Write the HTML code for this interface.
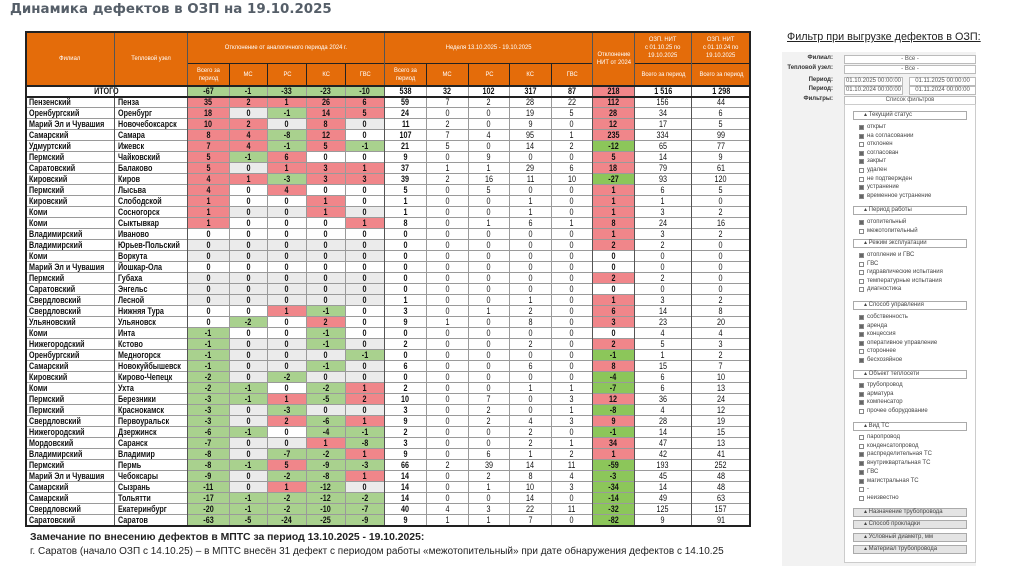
<!DOCTYPE html>
<html><head><meta charset="utf-8">
<style>
body{margin:0;width:1024px;height:574px;background:#fff;position:relative;overflow:hidden;font-family:"Liberation Sans",sans-serif}
.a{position:absolute;box-sizing:border-box}
.c{position:absolute;box-sizing:border-box;display:flex;align-items:center;justify-content:center;font-size:9px;font-weight:bold;color:#111;white-space:nowrap;overflow:hidden}
.c span{display:inline-block;transform:scaleX(.8)}
.c.l span{transform-origin:left center}
.h{background:#e46c0a;color:#fff;font-size:6.5px;text-align:center;line-height:8px;white-space:normal;border:1px solid #222;font-weight:normal}
.h span{transform:scaleX(.9)}
.f{position:absolute;font-family:"Liberation Sans",sans-serif;font-size:6px;color:#444;white-space:nowrap}
.cb{position:absolute;width:5px;height:5px;border:1px solid #888;background:#fff;box-sizing:border-box}
.cb.on{background:#666}
.sec{position:absolute;left:853px;width:114px;height:9px;border:1px solid #aaa;background:#fff;box-sizing:border-box;font-family:"Liberation Sans",sans-serif;font-size:6px;color:#444;padding-left:10px;line-height:7px}
.sec.g{background:#e4e4e4}
</style></head><body>
<div class="a" style="left:10px;top:0;font-family:'DejaVu Sans',sans-serif;font-weight:bold;font-size:13.4px;color:#555e68;line-height:20px">Динамика дефектов в ОЗП на 19.10.2025</div>
<div id="tbl"></div>
<div class="a" style="left:30px;top:532px;font-family:'Liberation Sans',sans-serif;font-weight:bold;font-size:10.4px;color:#222">Замечание по внесению дефектов в МПТС за период 13.10.2025 - 19.10.2025:</div>
<div class="a" style="left:30px;top:546px;font-family:'Liberation Sans',sans-serif;font-size:10px;color:#222">г. Саратов (начало ОЗП с 14.10.25) – в МПТС внесён 31 дефект с периодом работы «межотопительный» при дате обнаружения дефектов с 14.10.25</div>
<div class="a" style="left:787px;top:31px;font-family:'Liberation Sans',sans-serif;font-size:10.8px;color:#222;text-decoration:underline">Фильтр при выгрузке дефектов в ОЗП:</div>
<div class="a" style="left:782px;top:52px;width:194px;height:514px;background:#f2f2f2"></div>
<div id="flt"></div>
<script>
const branches=["Пензенский","Оренбургский","Марий Эл и Чувашия","Самарский","Удмуртский","Пермский","Саратовский","Кировский","Пермский","Кировский","Коми","Коми","Владимирский","Владимирский","Коми","Марий Эл и Чувашия","Пермский","Саратовский","Свердловский","Свердловский","Ульяновский","Коми","Нижегородский","Оренбургский","Самарский","Кировский","Коми","Пермский","Пермский","Свердловский","Нижегородский","Мордовский","Владимирский","Пермский","Марий Эл и Чувашия","Самарский","Самарский","Свердловский","Саратовский"];
const nodes=["Пенза","Оренбург","Новочебоксарск","Самара","Ижевск","Чайковский","Балаково","Киров","Лысьва","Слободской","Сосногорск","Сыктывкар","Иваново","Юрьев-Польский","Воркута","Йошкар-Ола","Губаха","Энгельс","Лесной","Нижняя Тура","Ульяновск","Инта","Кстово","Медногорск","Новокуйбышевск","Кирово-Чепецк","Ухта","Березники","Краснокамск","Первоуральск","Дзержинск","Саранск","Владимир","Пермь","Чебоксары","Сызрань","Тольятти","Екатеринбург","Саратов"];
const devTotal=[35,18,10,8,7,5,5,4,4,1,1,1,0,0,0,0,0,0,0,0,0,-1,-1,-1,-1,-2,-2,-3,-3,-3,-6,-7,-8,-8,-9,-11,-17,-20,-63];
const devMS=[2,0,2,4,4,-1,0,1,0,0,0,0,0,0,0,0,0,0,0,0,-2,0,0,0,0,0,-1,-1,0,0,-1,0,0,-1,0,0,-1,-1,-5];
const devRS=[1,-1,0,-8,-1,6,1,-3,4,0,0,0,0,0,0,0,0,0,0,1,0,0,0,0,0,-2,0,1,-3,2,0,0,-7,5,-2,1,-2,-2,-24];
const devKS=[26,14,8,12,5,0,3,3,0,1,1,0,0,0,0,0,0,0,0,-1,2,-1,-1,0,-1,0,-2,-5,0,-6,-4,1,-2,-9,-8,-12,-12,-10,-25];
const devGVS=[6,5,0,0,-1,0,1,3,0,0,0,1,0,0,0,0,0,0,0,0,0,0,0,-1,0,0,1,2,0,1,-1,-8,1,-3,1,0,-2,-7,-9];
const wkTotal=[59,24,11,107,21,9,37,39,5,1,1,8,0,0,0,0,0,0,1,3,9,0,2,0,6,0,2,10,3,9,2,3,9,66,14,14,14,40,9];
const wkMS=[7,0,2,7,5,0,1,2,0,0,0,0,0,0,0,0,0,0,0,0,1,0,0,0,0,0,0,0,0,0,0,0,0,2,0,0,0,4,1];
const wkRS=[2,0,0,4,0,9,1,16,5,0,0,1,0,0,0,0,0,0,0,1,0,0,0,0,0,0,0,7,2,2,0,0,6,39,2,1,0,3,1];
const wkKS=[28,19,9,95,14,0,29,11,0,1,1,6,0,0,0,0,0,0,1,2,8,0,2,0,6,0,1,0,0,4,2,2,1,14,8,10,14,22,7];
const wkGVS=[22,5,0,1,2,0,6,10,0,0,0,1,0,0,0,0,0,0,0,0,0,0,0,0,0,0,1,3,1,3,0,1,2,11,4,3,0,11,0];
const nitDev=[112,28,12,235,-12,5,18,-27,1,1,1,8,1,2,0,0,2,0,1,6,3,0,2,-1,8,-4,-7,12,-8,9,-1,34,1,-59,-3,-34,-14,-32,-82];
const ozp25=[156,34,17,334,65,14,79,93,6,1,3,24,3,2,0,0,2,0,3,14,23,4,5,1,15,6,6,36,4,28,14,47,42,193,45,14,49,125,9];
const ozp24=[44,6,5,99,77,9,61,120,5,0,2,16,2,0,0,0,0,0,2,8,20,4,3,2,7,10,13,24,12,19,15,13,41,252,48,48,63,157,91];
const grayZero=[0,1,1,0,0,0,1,0,0,0,1,0,0,1,1,0,1,1,1,0,0,0,1,1,1,1,0,0,1,1,0,1,1,0,1,1,0,0,0];
const totalRow=[-67,-1,-33,-23,-10,538,32,102,317,87,218,"1 516","1 298"];

const X=[25,114,187,229,267,306,345,384,426,468,509,551,592,634,691,750];
const T=document.getElementById('tbl');
function cell(x0,x1,y,h,txt,bg,extra,left){
  const d=document.createElement('div');d.className='c'+(left?' l':'');
  d.style.left=x0+'px';d.style.top=y+'px';d.style.width=(x1-x0+1)+'px';d.style.height=(h+1)+'px';
  d.style.border='1px solid #9a9a9a';
  if(bg)d.style.background=bg;
  if(extra)Object.assign(d.style,extra);
  const s=document.createElement('span');s.textContent=txt;d.appendChild(s);
  T.appendChild(d);return d;
}
function hdr(x0,x1,y0,y1,txt,name){
  const d=document.createElement('div');d.className='a c h';
  d.style.left=x0+'px';d.style.top=y0+'px';d.style.width=(x1-x0+1)+'px';d.style.height=(y1-y0+1)+'px';
  d.innerHTML='<span>'+txt+'</span>';
  
  
  T.appendChild(d);
}
const RED='#f0868a',GRN='#a9d18e',NG='#8cc65a',GRY='#ebebeb';
hdr(25,114,31,85,'Филиал','header-branch');
hdr(114,187,31,85,'Тепловой узел','header-node');
hdr(187,384,31,63,'Отклонение от аналогичного периода 2024 г.','header-deviation');
hdr(384,592,31,63,'Неделя 13.10.2025 - 19.10.2025','header-week');
hdr(592,634,31,85,'Отклонение<br>НИТ от 2024','header-nit-dev');
hdr(634,691,31,63,'ОЗП. НИТ<br>с 01.10.25 по<br>19.10.2025','header-ozp25');
hdr(691,750,31,63,'ОЗП. НИТ<br>с 01.10.24 по<br>19.10.2025','header-ozp24');
const sub=['Всего за период','МС','РС','КС','ГВС','Всего за период','МС','РС','КС','ГВС'];
sub.forEach((s,i)=>hdr(X[i+2],X[i+3],63,85,s,'subheader-'+i));
hdr(634,691,63,85,'Всего за период','subheader-ozp25');
hdr(691,750,63,85,'Всего за период','subheader-ozp24');
let c=cell(25,187,85,11,'ИТОГО');


totalRow.forEach((v,i)=>{
  const bg=i<5?GRN:(i===10?RED:null);
  const e=cell(X[i+2],X[i+3],85,11,v,bg);
  
  
});
function devBg(v,g){return v>0?RED:(v<0?GRN:(g?GRY:null));}
for(let r=0;r<branches.length;r++){
  const y=96+r*11;
  const g=grayZero[r];
  let e=cell(25,114,y,11,branches[r],null,{justifyContent:'flex-start',paddingLeft:'3px'},true);
  
  
  e=cell(114,187,y,11,nodes[r],null,{justifyContent:'flex-start',paddingLeft:'3px'},true);
  
  
  const dv=[devTotal[r],devMS[r],devRS[r],devKS[r],devGVS[r]];
  dv.forEach((v,i)=>{const k=cell(X[i+2],X[i+3],y,11,v,devBg(v,g));
    
    });
  const wk=[wkTotal[r],wkMS[r],wkRS[r],wkKS[r],wkGVS[r]];
  wk.forEach((v,i)=>{const k=cell(X[i+7],X[i+8],y,11,v,null,{fontWeight:i===0?'bold':'normal'});
    
    });
  const n=nitDev[r];
  e=cell(592,634,y,11,n,n>0?RED:(n<0?NG:null));
  
  
  e=cell(634,691,y,11,ozp25[r],null,{fontWeight:'normal'});
  
  
  e=cell(691,750,y,11,ozp24[r],null,{fontWeight:'normal'});
  
  
}
[25,750].forEach(x=>{const d=document.createElement('div');d.className='a';
  d.style.cssText=`left:${x-(x===750?1:0)}px;top:31px;width:1.5px;height:495px;background:#222`;T.appendChild(d);});
[114,187,384,592,634,691].forEach(x=>{const d=document.createElement('div');d.className='a';
  d.style.cssText=`left:${x}px;top:31px;width:1px;height:495px;background:#555`;T.appendChild(d);});
[31,85,96,525].forEach(y=>{const d=document.createElement('div');d.className='a';
  d.style.cssText=`left:25px;top:${y}px;width:726px;height:1.5px;background:#222`;T.appendChild(d);});

const F=document.getElementById('flt');
function fl(x,y,t,st){const d=document.createElement('div');d.className='f';d.style.left=x+'px';d.style.top=(y-4)+'px';if(st)d.style.cssText+=st;d.textContent=t;F.appendChild(d);return d;}
[['Филиал:',59],['Тепловой узел:',69],['Период:',81],['Период:',90],['Фильтры:',100]].forEach(([t,y])=>{
  const d=fl(0,y,t,'font-weight:bold;color:#333;width:833px;text-align:right;');d.style.left='0px';
  });
function box(x,y,w,h,t,name){const d=document.createElement('div');d.className='a';
  d.style.cssText=`left:${x}px;top:${y}px;width:${w}px;height:${h}px;border:1px solid #bbb;background:#fff;font-family:'Liberation Sans',sans-serif;font-size:6px;color:#555;text-align:center;line-height:${h-2}px`;
  d.textContent=t;F.appendChild(d);}
box(844,55,132,9,'- Все -','branch-select');
box(844,65,132,9,'- Все -','node-select');
box(844,77,59,9,'01.10.2025 00:00:00','period1-start');
box(909,77,67,9,'01.11.2025 00:00:00','period1-end');
box(844,86,59,9,'01.10.2024 00:00:00','period2-start');
box(909,86,67,9,'01.11.2024 00:00:00','period2-end');
box(844,96,132,9,'Список фильтров','filter-list-toggle');
const lb=document.createElement('div');lb.className='a';lb.style.cssText='left:844px;top:104px;width:132px;height:459px;border:1px solid #ccc;background:#fff';
F.appendChild(lb);
function sec(y,t,g){const d=document.createElement('div');d.className='sec'+(g?' g':'');d.style.top=(y-4)+'px';d.textContent='▴ '+t;
  F.appendChild(d);}
function item(y,t,on){const b=document.createElement('div');b.className='cb'+(on?' on':'');b.style.left='859px';b.style.top=(y-3)+'px';
  F.appendChild(b);fl(867,y,t);}
sec(115,'Текущий статус');
[['открыт',1],['на согласовании',1],['отклонен',0],['согласован',1],['закрыт',1],['удален',0],['не подтвержден',0],['устранение',1],['временное устранение',1]].forEach((a,i)=>item(128+i*8.6,a[0],a[1]));
sec(210,'Период работы');
item(223,'отопительный',1);item(232,'межотопительный',0);
sec(243,'Режим эксплуатации');
[['отопление и ГВС',1],['ГВС',0],['гидравлические испытания',0],['температурные испытания',0],['диагностика',0]].forEach((a,i)=>item(256+i*8.6,a[0],a[1]));
sec(305,'Способ управления');
[['собственность',1],['аренда',1],['концессия',1],['оперативное управление',1],['стороннее',0],['бесхозяйное',1]].forEach((a,i)=>item(318+i*8.6,a[0],a[1]));
sec(374,'Объект теплосети');
[['трубопровод',1],['арматура',1],['компенсатор',1],['прочее оборудование',0]].forEach((a,i)=>item(386+i*8.6,a[0],a[1]));
sec(426,'Вид ТС');
[['паропровод',0],['конденсатопровод',0],['распределительная ТС',1],['внутриквартальная ТС',1],['ГВС',1],['магистральная ТС',1],['-',0],['неизвестно',0]].forEach((a,i)=>item(438+i*8.7,a[0],a[1]));
sec(512,'Назначение трубопровода',1);
sec(524,'Способ прокладки',1);
sec(537,'Условный диаметр, мм',1);
sec(549,'Материал трубопровода',1);
</script>
</body></html>
